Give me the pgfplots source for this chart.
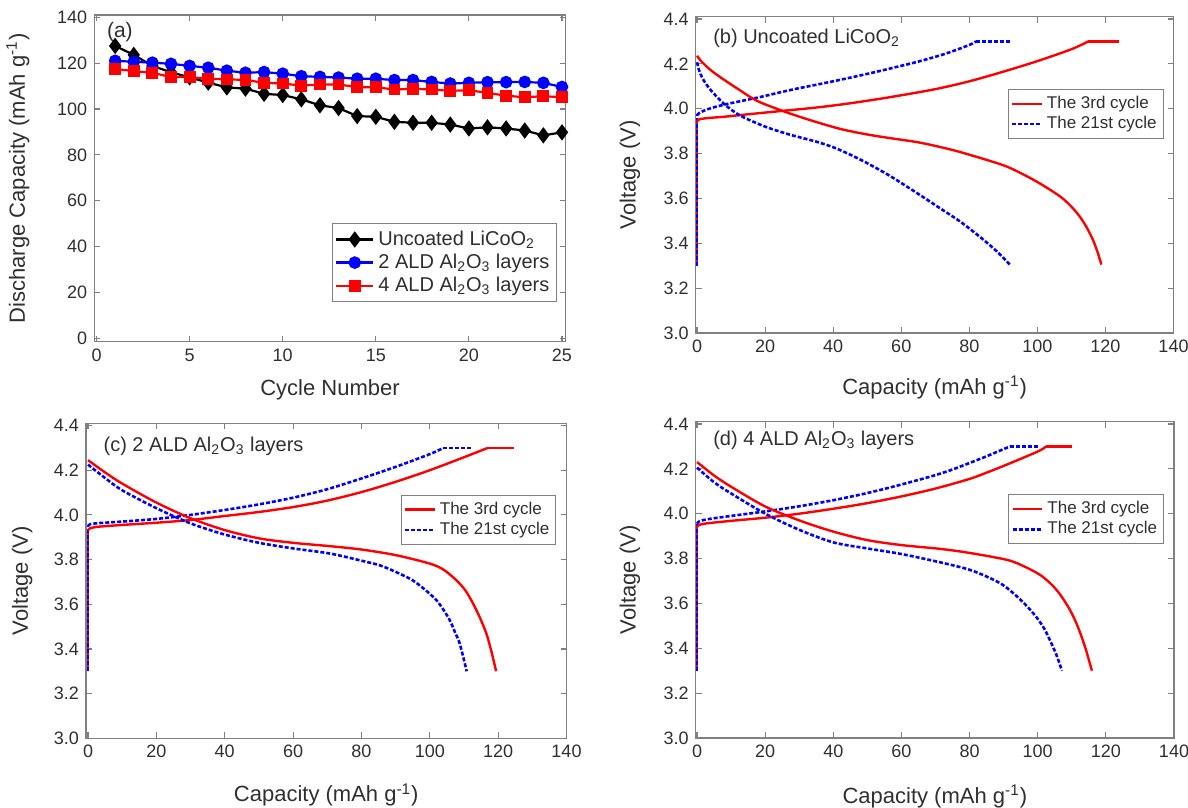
\documentclass[border=0pt]{standalone}
\usepackage{pgfplots}
\pgfplotsset{compat=1.18}
\usepackage{fontspec}
\setmainfont{Liberation Sans}
\definecolor{axgray}{HTML}{808080}
\definecolor{txt}{HTML}{2F2F2F}
\definecolor{myred}{HTML}{FF0000}
\definecolor{myblue}{HTML}{0000FF}
\pgfplotsset{
 base/.style={scale only axis, anchor=south west,
  axis line style={axgray, line width=0.7pt},
  tick style={axgray, line width=0.6pt},
  major tick length=3pt,
  tick label style={font=\fontsize{9}{10}\selectfont, text=txt},
  /pgf/number format/assume math mode=true,
  label style={font=\fontsize{11}{12}\selectfont, text=txt},
 },
 volt/.style={base, xmin=-0.4, xmax=140, ymin=3.0, ymax=4.41,
  xtick={0,20,40,60,80,100,120,140},
  ytick={3.0,3.2,3.4,3.6,3.8,4.0,4.2,4.4},
  yticklabel style={/pgf/number format/.cd, fixed, fixed zerofill, precision=1},
  xlabel={Capacity (mAh g\textsuperscript{-1})}, ylabel={Voltage (V)},
  legend style={draw=axgray, font=\fontsize{8.5}{10}\selectfont, text=txt,
   inner sep=1.2pt, row sep=-1.5pt, cells={anchor=west}, anchor=north east},
  legend image code/.code={\draw[##1] (0cm,0cm) -- (0.52cm,0cm);},
 },
 redl/.style={myred, line width=1.2pt},
 bluel/.style={myblue, line width=1.3pt, dash pattern=on 2pt off 1pt},
 sm/.style={smooth, tension=0.5, forget plot},
 amark/.style={legend image code/.code={\draw[##1] (0cm,0cm) -- (0.65cm,0cm);
     \draw[##1,only marks] plot coordinates {(0.325cm,0cm)};}},
}
\begin{document}
\begin{tikzpicture}
\useasboundingbox (0,0) rectangle (594pt,404pt);
% (a)
\begin{axis}[base, amark, at={(47.15pt,233.15pt)}, width=235.7pt, height=163.35pt,
  xmin=-0.12, xmax=25.2, ymin=-1.5, ymax=141,
  xtick={0,5,10,15,20,25}, ytick={0,20,40,60,80,100,120,140},
  xlabel={Cycle Number}, ylabel={Discharge Capacity (mAh g\textsuperscript{-1})},
  xlabel style={at={(axis description cs:0.5,-0.148)}, anchor=center},
  ylabel style={at={(axis description cs:-0.162,0.5)}, anchor=center},
  legend style={at={(axis description cs:0.981,0.122)}, anchor=south east,
   draw=axgray, font=\fontsize{10}{11}\selectfont, text=txt, inner sep=1.5pt, row sep=-1.2pt,
   cells={anchor=west}},
  ]
\addplot[black, line width=1.1pt, mark=diamond*, mark size=3.2pt] coordinates {
(1,127.5)(2,123.6)(3,118.8)(4,116.0)(5,113.8)(6,111.5)(7,109.4)(8,108.9)(9,106.6)(10,106.1)
(11,104.2)(12,101.6)(13,100.4)(14,96.9)(15,96.6)(16,94.4)(17,94.0)(18,94.0)(19,93.2)(20,91.5)
(21,92.0)(22,91.5)(23,90.6)(24,88.5)(25,89.8)};
\addlegendentry{Uncoated LiCoO\textsubscript{2}}
\addplot[myblue, line width=1.1pt, mark=*, mark size=2.6pt] coordinates {
(1,121.0)(2,120.6)(3,120.2)(4,119.7)(5,118.8)(6,118.0)(7,116.7)(8,115.8)(9,116.1)(10,115.4)
(11,114.3)(12,114.0)(13,113.7)(14,113.2)(15,113.2)(16,112.6)(17,112.6)(18,111.8)(19,111.1)(20,111.4)
(21,111.7)(22,111.7)(23,111.8)(24,111.4)(25,109.6)};
\addlegendentry{2 ALD Al\textsubscript{2}O\textsubscript{3} layers}
\addplot[myred, line width=1.1pt, mark=square*, mark size=2.4pt] coordinates {
(1,117.5)(2,116.5)(3,115.8)(4,113.9)(5,113.9)(6,113.2)(7,112.9)(8,112.7)(9,111.4)(10,111.1)
(11,110.2)(12,110.7)(13,110.7)(14,109.5)(15,109.5)(16,108.5)(17,108.8)(18,108.5)(19,107.9)(20,108.2)
(21,107.0)(22,105.8)(23,105.1)(24,105.6)(25,105.1)};
\addlegendentry{4 ALD Al\textsubscript{2}O\textsubscript{3} layers}
\node[anchor=west, font=\fontsize{10.5}{11}\selectfont, text=txt] at (axis description cs:0.012,0.948) {(a)};
\end{axis}
% (b)
\begin{axis}[volt, at={(347.85pt,237.5pt)}, width=238.9pt, height=158.15pt,
  xlabel style={at={(axis description cs:0.5,-0.171)}, anchor=center},
  ylabel style={at={(axis description cs:-0.1375,0.5)}, anchor=center},
  legend style={at={(axis description cs:0.9787,0.7705)}}]
\addplot[redl] coordinates {(0,3.3)(0,3.944)};
\addlegendentry{The 3rd cycle}
\addplot[bluel] coordinates {(0,3.3)(0,3.97)};
\addlegendentry{The 21st cycle}
\addplot[redl, sm] coordinates {(0,3.944)(0.6,3.952)(3,3.958)(8,3.964)(15,3.975)(25,3.99)(35,4.005)(45,4.024)(57,4.052)(70,4.087)(80,4.122)(90,4.165)(100,4.212)(110,4.265)(115,4.3)};
\addplot[redl, forget plot] coordinates {(115,4.3)(124,4.3)};
\addplot[bluel, sm] coordinates {(0,3.97)(0.6,3.98)(3,3.997)(8,4.018)(18,4.05)(28,4.085)(40,4.122)(50,4.155)(57,4.18)(65,4.21)(73,4.245)(80,4.284)(82,4.3)};
\addplot[bluel, forget plot] coordinates {(82,4.3)(92,4.3)};
\addplot[redl, sm] coordinates {(0,4.236)(1,4.215)(3,4.185)(5,4.16)(8,4.128)(12,4.088)(17.6,4.035)(25.5,3.988)(33,3.95)(42,3.91)(50,3.885)(57,3.868)(65,3.85)(72,3.827)(77,3.808)(85,3.772)(91,3.742)(97,3.698)(102,3.655)(107,3.605)(110,3.563)(112.4,3.52)(114.5,3.47)(116.3,3.416)(117.7,3.36)(118.8,3.305)};
\addplot[bluel, sm] coordinates {(0,4.207)(0.5,4.175)(1,4.155)(2,4.125)(4,4.083)(8,4.02)(12.7,3.969)(20,3.92)(27.3,3.884)(35,3.853)(40,3.828)(45,3.795)(50,3.757)(56.7,3.7)(65,3.62)(72,3.55)(77.2,3.498)(83,3.43)(88,3.365)(91.9,3.305)};
\node[anchor=west, font=\fontsize{10}{11}\selectfont, text=txt] at (axis description cs:0.022,0.933) {(b) Uncoated LiCoO\textsubscript{2}};
\end{axis}
% (c)
\begin{axis}[volt, xmin=-0.6, at={(43pt,34.85pt)}, width=240.25pt, height=157.5pt,
  xlabel style={at={(axis description cs:0.5,-0.18)}, anchor=center},
  ylabel style={at={(axis description cs:-0.133,0.5)}, anchor=center},
  legend style={at={(axis description cs:0.9787,0.772)}}]
\addplot[redl] coordinates {(0,3.3)(0,3.93)};
\addlegendentry{The 3rd cycle}
\addplot[bluel] coordinates {(0,3.3)(0,3.95)};
\addlegendentry{The 21st cycle}
\addplot[redl, sm] coordinates {(0,3.93)(0.6,3.94)(3,3.947)(10,3.955)(20,3.965)(30,3.977)(40,3.995)(50,4.013)(60,4.035)(70,4.064)(80,4.102)(90,4.148)(100,4.2)(110,4.258)(117,4.3)};
\addplot[redl, forget plot] coordinates {(117,4.3)(124.7,4.3)};
\addplot[bluel, sm] coordinates {(0,3.95)(0.6,3.958)(3,3.963)(10,3.97)(20,3.982)(30,4.0)(40,4.022)(50,4.047)(60,4.077)(70,4.115)(80,4.163)(90,4.215)(100,4.272)(104,4.3)};
\addplot[bluel, forget plot] coordinates {(104,4.3)(112.6,4.3)};
\addplot[redl, sm] coordinates {(0,4.245)(5,4.19)(10,4.14)(20,4.055)(30,3.985)(40,3.932)(50,3.895)(60,3.875)(70.8,3.86)(80,3.845)(90,3.82)(100,3.782)(104,3.755)(107.8,3.707)(110.5,3.66)(112.7,3.602)(114.8,3.535)(116.6,3.467)(118,3.39)(119.4,3.3)};
\addplot[bluel, sm] coordinates {(0,4.225)(5,4.165)(10,4.11)(20,4.03)(30,3.962)(40,3.912)(50,3.875)(60,3.85)(70.8,3.827)(80,3.795)(85.4,3.774)(90,3.745)(95,3.707)(99,3.66)(102,3.617)(104,3.575)(105.9,3.527)(107.5,3.47)(108.8,3.422)(110.8,3.3)};
\node[anchor=west, font=\fontsize{10}{11}\selectfont, text=txt] at (axis description cs:0.022,0.928) {(c) 2 ALD Al\textsubscript{2}O\textsubscript{3} layers};
\end{axis}
% (d)
\begin{axis}[volt, at={(347.85pt,35pt)}, width=239.15pt, height=158.15pt,
  xlabel style={at={(axis description cs:0.5,-0.186)}, anchor=center},
  ylabel style={at={(axis description cs:-0.1375,0.5)}, anchor=center},
  legend style={at={(axis description cs:0.9787,0.77)}}]
\addplot[redl] coordinates {(0,3.3)(0,3.94)};
\addlegendentry{The 3rd cycle}
\addplot[bluel] coordinates {(0,3.3)(0,3.955)};
\addlegendentry{The 21st cycle}
\addplot[redl, sm] coordinates {(0,3.94)(0.6,3.95)(3,3.957)(10,3.968)(20,3.982)(30,4.0)(40,4.022)(50,4.047)(60,4.077)(70,4.112)(80,4.155)(85,4.183)(90,4.213)(100,4.277)(102.5,4.3)};
\addplot[redl, forget plot] coordinates {(102.5,4.3)(110,4.3)};
\addplot[bluel, sm] coordinates {(0,3.955)(0.6,3.965)(3,3.975)(10,3.99)(20,4.01)(30,4.033)(40,4.06)(50,4.092)(60,4.13)(70,4.172)(75,4.197)(80,4.226)(85,4.256)(90,4.288)(92,4.3)};
\addplot[bluel, forget plot] coordinates {(92,4.3)(100,4.3)};
\addplot[redl, sm] coordinates {(0,4.23)(5,4.17)(10,4.12)(20,4.032)(30,3.97)(40,3.92)(50,3.882)(60,3.86)(71.4,3.843)(80,3.825)(91,3.794)(96,3.765)(100.7,3.727)(104,3.685)(106.6,3.639)(109.3,3.575)(111.5,3.506)(113.8,3.41)(115.9,3.3)};
\addplot[bluel, sm] coordinates {(0,4.205)(5,4.14)(10,4.09)(20,4.0)(30,3.928)(40,3.872)(50,3.845)(60,3.82)(71.4,3.783)(80,3.75)(86.1,3.712)(90,3.68)(93.9,3.631)(97,3.585)(99.8,3.535)(102,3.485)(103.7,3.432)(105.5,3.37)(107.1,3.3)};
\node[anchor=west, font=\fontsize{10}{11}\selectfont, text=txt] at (axis description cs:0.022,0.94) {(d) 4 ALD Al\textsubscript{2}O\textsubscript{3} layers};
\end{axis}
\end{tikzpicture}
\end{document}
